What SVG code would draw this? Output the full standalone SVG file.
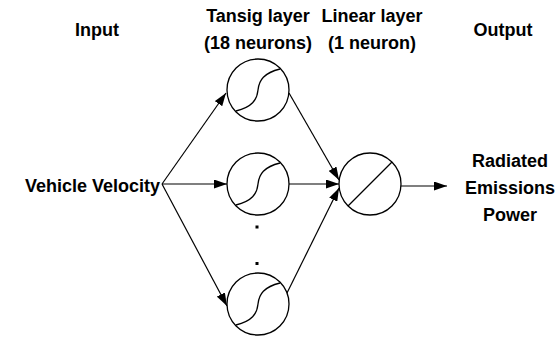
<svg xmlns="http://www.w3.org/2000/svg" width="560" height="337" viewBox="0 0 560 337">
<style>
text{font-family:"Liberation Sans",Arial,sans-serif;font-weight:bold;font-size:18px;fill:#000;text-anchor:middle}
.n{fill:#fff;stroke:#000;stroke-width:1.3}
.c{fill:none;stroke:#000;stroke-width:1.3}
.e{fill:none;stroke:#000;stroke-width:1.2;marker-end:url(#ah)}
.l{fill:none;stroke:#000;stroke-width:1.2}
</style>
<defs>
<marker id="ah" viewBox="0 0 13 9" refX="13" refY="4.5" markerWidth="13" markerHeight="9" markerUnits="userSpaceOnUse" orient="auto">
<path d="M0,0 L13,4.5 L0,9 z" fill="#000"/>
</marker>
<path id="sig" d="M-22,21 C-6,17 -1,10 0,0 C1,-10 6,-17 22,-21" class="c"/>
</defs>
<g id="labels">
<text x="97" y="36">Input</text>
<text x="258" y="22">Tansig layer</text>
<text x="258" y="49">(18 neurons)</text>
<text x="372" y="22">Linear layer</text>
<text x="372" y="49">(1 neuron)</text>
<text x="503" y="36">Output</text>
</g>
<g id="connectors">
<line class="e" x1="162" y1="184" x2="226" y2="93"/>
<line class="e" x1="162" y1="184" x2="227" y2="184"/>
<line class="e" x1="162" y1="184" x2="227" y2="306"/>
<line class="e" x1="289" y1="93" x2="339" y2="180"/>
<line class="e" x1="289" y1="184" x2="339" y2="184"/>
<line class="e" x1="287" y1="293" x2="339" y2="188"/>
<line class="e" x1="401" y1="186" x2="447" y2="186"/>
</g>
<g id="input">
<text x="160" y="192" style="text-anchor:end">Vehicle Velocity</text>
</g>
<g id="tansig1"><circle class="n" cx="258" cy="90" r="31"/><use href="#sig" x="258" y="90"/></g>
<g id="tansig2"><circle class="n" cx="258" cy="184" r="31"/><use href="#sig" x="258" y="184"/></g>
<g id="dots"><rect x="255.5" y="225.5" width="3" height="3"/><rect x="255.5" y="262" width="3" height="3"/></g>
<g id="tansig3"><circle class="n" cx="258" cy="304" r="31"/><use href="#sig" x="258" y="304"/></g>
<g id="linear"><circle class="n" cx="370" cy="184" r="31"/><line class="l" x1="348" y1="206" x2="392" y2="162"/></g>
<g id="output">
<text x="510" y="167">Radiated</text>
<text x="510" y="194">Emissions</text>
<text x="510" y="221">Power</text>
</g>
</svg>
